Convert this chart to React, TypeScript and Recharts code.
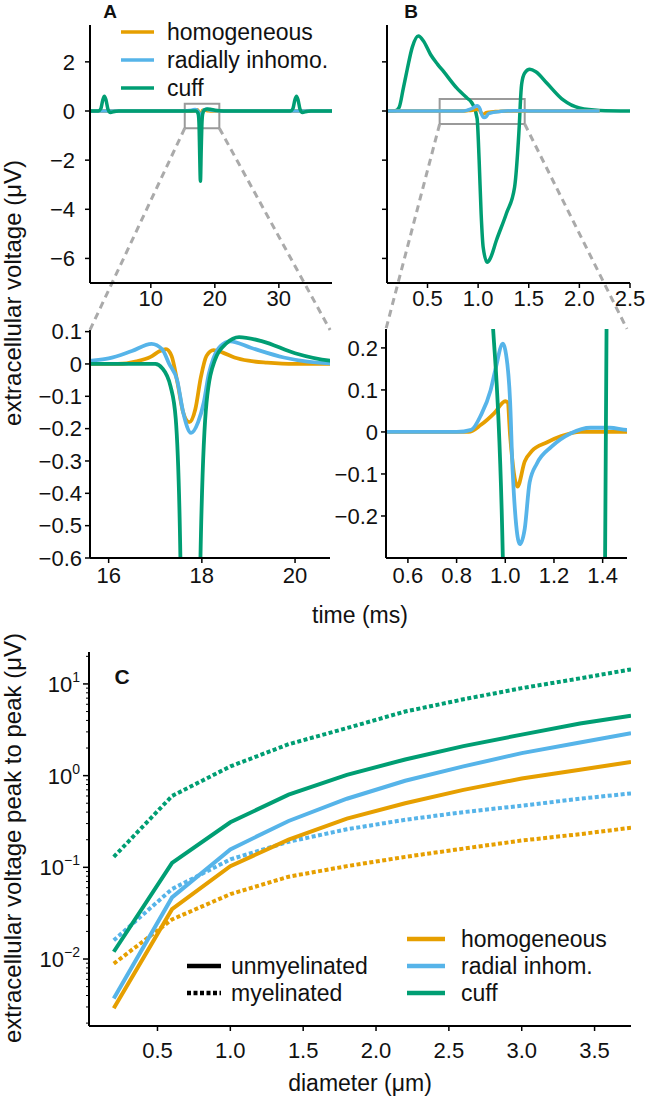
import React from "react";
import { LineChart, Line, XAxis, YAxis, ReferenceArea, ReferenceLine } from "recharts";

const W = 653;
const H = 1098;
const FONT = "'Liberation Sans', Arial, Helvetica, sans-serif";
const ORANGE = "#E69F00";
const BLUE = "#56B4E9";
const GREEN = "#009E73";
const GREY = "#9a9a9a";
const DASHGREY = "#aaaaaa";

// ---- panel A / zoom A : time (ms), extracellular voltage (µV) ----
const homA: [number, number][] = [
  [0.5, 0], [16.2, 0], [16.6, 0.008], [16.9, 0.022], [17.1, 0.04], [17.23, 0.046], [17.35, 0.025],
  [17.48, -0.06], [17.6, -0.15], [17.73, -0.18], [17.86, -0.14], [17.98, -0.04], [18.1, 0.025],
  [18.25, 0.043], [18.45, 0.035], [18.7, 0.02], [19.0, 0.01], [19.4, 0.004], [20.0, 0], [38.3, 0],
];
const radA: [number, number][] = [
  [0.5, 0], [13.5, 0], [14.8, 0.004], [15.6, 0.01], [16.0, 0.017], [16.5, 0.04], [16.92, 0.062],
  [17.15, 0.045], [17.3, 0.0], [17.47, -0.05], [17.6, -0.15], [17.77, -0.213], [17.92, -0.18],
  [18.04, -0.12], [18.15, -0.03], [18.25, 0.018], [18.4, 0.055], [18.61, 0.07], [19.05, 0.05],
  [19.76, 0.02], [20.75, 0.002], [22, 0], [38.3, 0],
];
const cuffA: [number, number][] = [
  [0.5, 0], [1.8, 0], [2.2, 0.1], [2.5, 0.45], [2.75, 0.6], [3.0, 0.45], [3.3, 0.08], [3.7, -0.06],
  [4.3, -0.02], [5, 0], [17.0, 0], [17.15, -0.013], [17.33, -0.07], [17.44, -0.17], [17.54, -0.6],
  [17.62, -1.6], [17.75, -2.86], [17.87, -1.6], [17.97, -0.6], [18.1, -0.12], [18.28, 0.012],
  [18.53, 0.064], [18.8, 0.083], [19.3, 0.07], [20.0, 0.033], [20.75, 0.01], [22, 0], [31.8, 0],
  [32.2, 0.1], [32.5, 0.45], [32.75, 0.6], [33.0, 0.45], [33.3, 0.08], [33.7, -0.06], [34.3, -0.02],
  [35, 0], [38.3, 0],
];

// ---- panel B / zoom B ----
const homB: [number, number][] = [
  [0.1, 0], [0.85, 0], [0.9, 0.017], [0.955, 0.045], [1.0, 0.073], [1.01, 0.07], [1.02, -0.01],
  [1.05, -0.13], [1.08, -0.07], [1.11, -0.045], [1.17, -0.025], [1.23, -0.01], [1.31, 0], [2.2, 0],
];
const radB: [number, number][] = [
  [0.1, 0], [0.8, 0], [0.86, 0.005], [0.9, 0.04], [0.94, 0.1], [0.96, 0.15], [0.99, 0.21],
  [1.0, 0.195], [1.02, 0.07], [1.03, -0.09], [1.06, -0.267], [1.08, -0.23], [1.1, -0.12],
  [1.13, -0.075], [1.19, -0.035], [1.27, -0.003], [1.35, 0.01], [1.43, 0.01], [1.5, 0.005], [2.2, 0],
];
const cuffB: [number, number][] = [
  [0.1, 0], [0.18, 0.01], [0.22, 0.15], [0.26, 0.9], [0.3, 1.7], [0.35, 2.6], [0.41, 3.05],
  [0.46, 2.85], [0.53, 2.3], [0.6, 1.9], [0.66, 1.6], [0.79, 0.93], [0.89, 0.53], [0.93, 0.38],
  [0.95, 0.245], [0.99, -0.3], [1.01, -2.0], [1.03, -4.2], [1.05, -5.55], [1.09, -6.16], [1.12, -6.0],
  [1.18, -5.27], [1.28, -4.16], [1.36, -3.1], [1.39, -1.7], [1.41, -0.3], [1.416, 0.25], [1.43, 1.1],
  [1.46, 1.55], [1.51, 1.7], [1.57, 1.6], [1.68, 1.13], [1.84, 0.45], [2.0, 0.12], [2.2, 0.02], [2.5, 0],
];

// ---- panel C : peak-to-peak vs diameter ----
const diameters = [0.2, 0.6, 1.0, 1.4, 1.8, 2.2, 2.6, 3.0, 3.4, 3.75];
const homUnmy = [0.0029, 0.035, 0.103, 0.2, 0.34, 0.5, 0.7, 0.93, 1.16, 1.41];
const radUnmy = [0.0037, 0.047, 0.157, 0.32, 0.56, 0.88, 1.26, 1.76, 2.3, 2.9];
const cuffUnmy = [0.012, 0.112, 0.31, 0.62, 1.02, 1.5, 2.1, 2.8, 3.7, 4.5];
const homMy = [0.0089, 0.027, 0.051, 0.079, 0.103, 0.13, 0.16, 0.196, 0.23, 0.27];
const radMy = [0.016, 0.058, 0.122, 0.19, 0.26, 0.33, 0.4, 0.47, 0.56, 0.64];
const cuffMy = [0.13, 0.6, 1.26, 2.2, 3.3, 5.0, 6.8, 9.0, 11.5, 14.4];

const aTicksX = [10, 20, 30];
const topTicksY = [2, 0, -2, -4, -6];
const bTicksX = [0.5, 1.0, 1.5, 2.0, 2.5];
const azTicksX = [16, 18, 20];
const azTicksY = [0.1, 0, -0.1, -0.2, -0.3, -0.4, -0.5, -0.6];
const bzTicksX = [0.6, 0.8, 1.0, 1.2, 1.4];
const bzTicksY = [0.2, 0.1, 0, -0.1, -0.2];
const cTicksX = [0.5, 1.0, 1.5, 2.0, 2.5, 3.0, 3.5];
const cTicksY = [1e-3, 1e-2, 1e-1, 1, 10].flatMap((d) => [2, 3, 4, 5, 6, 7, 8, 9, 10].map((m) => +(m * d).toPrecision(3)))
  .filter((v, i, a) => a.indexOf(v) === i && v >= 0.002 && v <= 20);

const pts = (a: [number, number][]) => a.map(([x, y]) => ({ x, y }));
const zipC = (ys: number[]) => diameters.map((x, i) => ({ x, y: ys[i] }));

type Box = { left: number; top: number; right: number; bottom: number };
const YW = 60; // y-axis band width
const XH = 40; // x-axis band height
const marginOf = (b: Box) => ({ left: b.left - YW, top: b.top, right: W - b.right, bottom: H - b.bottom - XH });

const boxA: Box = { left: 90, top: 25, right: 332, bottom: 283 };
const boxB: Box = { left: 387, top: 25, right: 630, bottom: 283 };
const boxAz: Box = { left: 90, top: 330, right: 330, bottom: 558 };
const boxBz: Box = { left: 386, top: 329, right: 627, bottom: 558 };
const boxC: Box = { left: 89, top: 652, right: 631, bottom: 1026 };

const axisLine = { stroke: "#000", strokeWidth: 2 };
const tickLine = { stroke: "#000", strokeWidth: 1.5 };
const tickFont = { fill: "#111", fontSize: 22, fontFamily: FONT };
const connector = { stroke: DASHGREY, strokeWidth: 3, strokeDasharray: "7 5" };
const minus = (s: string) => s.replace("-", "\u2212");
const fmt1 = (v: number) => v.toFixed(1);
const fmtNum = (v: number) => minus(String(v));

const layer: React.CSSProperties = { position: "absolute", left: 0, top: 0 };

function trace(data: [number, number][], color: string, key: string, width = 3.5) {
  return (
    <Line key={key} data={pts(data)} dataKey="y" type="monotone" stroke={color} strokeWidth={width}
      dot={false} activeDot={false} isAnimationActive={false} />
  );
}

function PanelA() {
  return (
    <LineChart width={W} height={H} margin={marginOf(boxA)}>
      <XAxis type="number" dataKey="x" domain={[0.5, 38.3]} ticks={aTicksX} allowDataOverflow height={XH}
        axisLine={axisLine} tickLine={tickLine} tickSize={5} tickMargin={2} tick={tickFont} interval={0} />
      <YAxis type="number" domain={[-7, 3.5]} ticks={topTicksY} tickFormatter={fmtNum} allowDataOverflow width={YW}
        axisLine={axisLine} tickLine={tickLine} tickSize={5} tickMargin={10} tick={tickFont} interval={0} />
      {trace(homA, ORANGE, "h")}
      {trace(radA, BLUE, "r")}
      {trace(cuffA, GREEN, "c")}
      <ReferenceArea x1={15.3} x2={20.7} y1={-0.7} y2={0.3} fill="none" stroke={GREY} strokeWidth={2} ifOverflow="visible" />
      <ReferenceLine segment={[{ x: 15.3, y: -0.7 }, { x: 0.5, y: -8.91 }]} ifOverflow="visible" {...connector} />
      <ReferenceLine segment={[{ x: 20.7, y: -0.7 }, { x: 38.0, y: -8.91 }]} ifOverflow="visible" {...connector} />
    </LineChart>
  );
}

function PanelB() {
  return (
    <LineChart width={W} height={H} margin={marginOf(boxB)}>
      <XAxis type="number" dataKey="x" domain={[0.1, 2.5]} ticks={bTicksX} tickFormatter={fmt1} allowDataOverflow height={XH}
        axisLine={axisLine} tickLine={tickLine} tickSize={5} tickMargin={2} tick={tickFont} interval={0} />
      <YAxis type="number" domain={[-7, 3.5]} ticks={topTicksY} tickFormatter={() => ""} allowDataOverflow width={YW}
        axisLine={axisLine} tickLine={tickLine} tickSize={5} tick={tickFont} interval={0} />
      {trace(cuffB, GREEN, "c")}
      {trace(homB, ORANGE, "h")}
      {trace(radB, BLUE, "r")}
      <ReferenceArea x1={0.62} x2={1.46} y1={-0.53} y2={0.49} fill="none" stroke={GREY} strokeWidth={2} ifOverflow="visible" />
      <ReferenceLine segment={[{ x: 0.62, y: -0.53 }, { x: 0.09, y: -8.87 }]} ifOverflow="visible" {...connector} />
      <ReferenceLine segment={[{ x: 1.46, y: -0.53 }, { x: 2.47, y: -8.87 }]} ifOverflow="visible" {...connector} />
    </LineChart>
  );
}

function PanelAZoom() {
  return (
    <LineChart width={W} height={H} margin={marginOf(boxAz)}>
      <XAxis type="number" dataKey="x" domain={[15.6, 20.75]} ticks={azTicksX} allowDataOverflow height={XH}
        axisLine={axisLine} tickLine={tickLine} tickSize={5} tickMargin={4} tick={tickFont} interval={0} />
      <YAxis type="number" domain={[-0.6, 0.105]} ticks={azTicksY} tickFormatter={fmtNum} allowDataOverflow width={YW}
        axisLine={axisLine} tickLine={tickLine} tickSize={5} tickMargin={3} tick={tickFont} interval={0} />
      {trace(homA, ORANGE, "h", 3.8)}
      {trace(radA, BLUE, "r", 3.8)}
      {trace(cuffA, GREEN, "c", 3.8)}
    </LineChart>
  );
}

function PanelBZoom() {
  return (
    <LineChart width={W} height={H} margin={marginOf(boxBz)}>
      <XAxis type="number" dataKey="x" domain={[0.51, 1.5]} ticks={bzTicksX} tickFormatter={fmt1} allowDataOverflow height={XH}
        axisLine={axisLine} tickLine={tickLine} tickSize={5} tickMargin={4} tick={tickFont} interval={0} />
      <YAxis type="number" domain={[-0.3, 0.245]} ticks={bzTicksY} tickFormatter={fmtNum} allowDataOverflow width={YW}
        axisLine={axisLine} tickLine={tickLine} tickSize={5} tickMargin={3} tick={tickFont} interval={0} />
      {trace(homB, ORANGE, "h", 3.8)}
      {trace(radB, BLUE, "r", 3.8)}
      {trace(cuffB, GREEN, "c", 3.8)}
    </LineChart>
  );
}

function LogTick(props: any) {
  const { x, y, payload } = props;
  const v: number = payload.value;
  const lg = Math.log10(v);
  const exp = Math.round(lg);
  const major = Math.abs(lg - exp) < 1e-6;
  return (
    <g>
      <line x1={x} x2={x - (major ? 6 : 3)} y1={y} y2={y} stroke="#000" strokeWidth={major ? 1.5 : 1} />
      {major && (
        <text x={x - 9} y={y + 8} textAnchor="end" fontSize={22} fontFamily={FONT} fill="#111">
          10<tspan dy={-10} fontSize={14}>{minus(String(exp))}</tspan>
        </text>
      )}
    </g>
  );
}

function PanelC() {
  const cLine = (ys: number[], color: string, dashed: boolean, key: string) => (
    <Line key={key} data={zipC(ys)} dataKey="y" type="linear" stroke={color} strokeWidth={4}
      strokeDasharray={dashed ? "4 2.5" : undefined} dot={false} activeDot={false} isAnimationActive={false} />
  );
  return (
    <LineChart width={W} height={H} margin={marginOf(boxC)}>
      <XAxis type="number" dataKey="x" domain={[0.03, 3.75]} ticks={cTicksX} tickFormatter={fmt1} allowDataOverflow height={XH}
        axisLine={axisLine} tickLine={tickLine} tickSize={5} tickMargin={11} tick={tickFont} interval={0} />
      <YAxis type="number" scale="log" domain={[0.00186, 22.3]} ticks={cTicksY} allowDataOverflow width={YW}
        axisLine={axisLine} tickLine={false} tickSize={0} tickMargin={0} tick={<LogTick />} interval={0} />
      {cLine(homMy, ORANGE, true, "hm")}
      {cLine(radMy, BLUE, true, "rm")}
      {cLine(cuffMy, GREEN, true, "cm")}
      {cLine(homUnmy, ORANGE, false, "hu")}
      {cLine(radUnmy, BLUE, false, "ru")}
      {cLine(cuffUnmy, GREEN, false, "cu")}
    </LineChart>
  );
}

const topLegend = [
  { label: "homogeneous", color: ORANGE },
  { label: "radially inhomo.", color: BLUE },
  { label: "cuff", color: GREEN },
];
const cLegend = [
  { label: "homogeneous", color: ORANGE },
  { label: "radial inhom.", color: BLUE },
  { label: "cuff", color: GREEN },
];
const styleLegend = [
  { label: "unmyelinated", dash: undefined as string | undefined },
  { label: "myelinated", dash: "4 2.5" },
];

function Annotations() {
  const txt = { fontFamily: FONT, fontSize: 23, fill: "#111" };
  const bold = { fontFamily: FONT, fontSize: 19, fontWeight: 700, fill: "#111" };
  return (
    <svg width={W} height={H} style={{ ...layer, pointerEvents: "none" }}>
      <text x={110} y={18} textAnchor="middle" {...bold}>A</text>
      <text x={411} y={18} textAnchor="middle" {...bold}>B</text>
      <text x={122} y={684} textAnchor="middle" {...bold} fontSize={21}>C</text>
      {topLegend.map((d, i) => (
        <g key={d.label}>
          <line x1={121} x2={154} y1={32 + i * 28} y2={32 + i * 28} stroke={d.color} strokeWidth={3.5} />
          <text x={167} y={40 + i * 28} {...txt}>{d.label}</text>
        </g>
      ))}
      {cLegend.map((d, i) => (
        <g key={d.label}>
          <line x1={407} x2={445} y1={939 + i * 27} y2={939 + i * 27} stroke={d.color} strokeWidth={4.5} />
          <text x={461} y={947 + i * 27} {...txt}>{d.label}</text>
        </g>
      ))}
      {styleLegend.map((d, i) => (
        <g key={d.label}>
          <line x1={187} x2={221} y1={966 + i * 27} y2={966 + i * 27} stroke="#000" strokeWidth={4.5} strokeDasharray={d.dash} />
          <text x={231} y={974 + i * 27} {...txt}>{d.label}</text>
        </g>
      ))}
      <text transform="translate(21 293) rotate(-90)" textAnchor="middle" {...txt} fontSize={24}>extracellular voltage (μV)</text>
      <text x={360} y={623} textAnchor="middle" {...txt}>time (ms)</text>
      <text transform="translate(21 838) rotate(-90)" textAnchor="middle" {...txt} fontSize={24}>extracellular voltage peak to peak (μV)</text>
      <text x={360} y={1091} textAnchor="middle" {...txt}>diameter (μm)</text>
    </svg>
  );
}

export default function App() {
  return (
    <div style={{ position: "absolute", left: 0, top: 0, width: W, height: H, background: "#fff", overflow: "hidden" }}>
      <div style={layer}><PanelAZoom /></div>
      <div style={layer}><PanelBZoom /></div>
      <div style={layer}><PanelC /></div>
      <div style={layer}><PanelA /></div>
      <div style={layer}><PanelB /></div>
      <Annotations />
    </div>
  );
}
